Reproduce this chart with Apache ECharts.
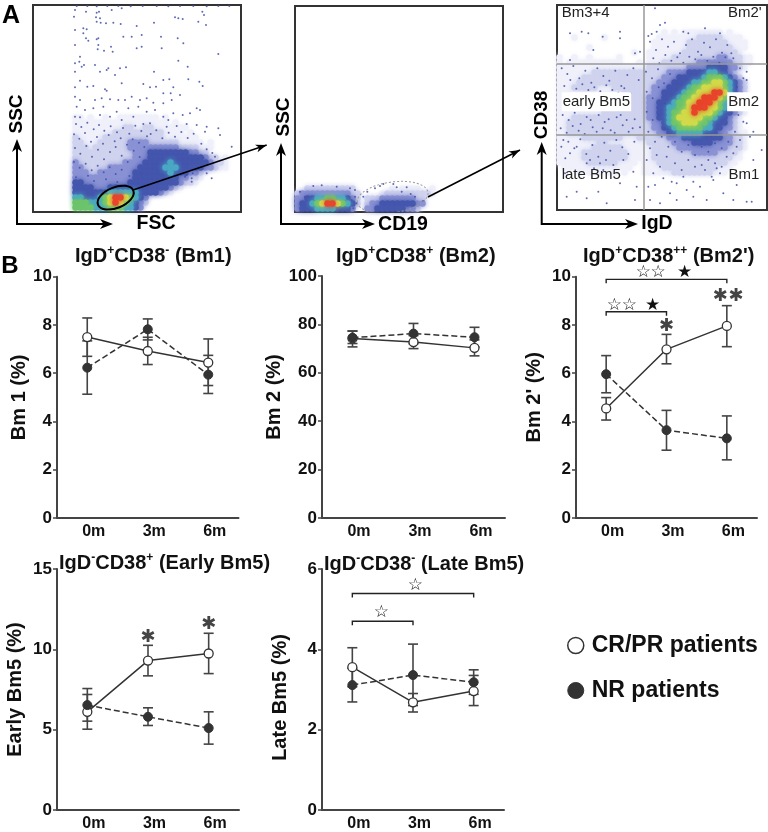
<!DOCTYPE html>
<html><head><meta charset="utf-8">
<style>html,body{margin:0;padding:0;background:#fff}#c{width:768px;height:832px}</style>
<script src="https://cdn.jsdelivr.net/npm/echarts@6/dist/echarts.min.js"></script>
</head><body><div id="c"></div>
<script>
const months = ['0m','3m','6m'];
const crName = 'CR/PR patients', nrName = 'NR patients';

const bm1Cr=[7.5,6.92,6.44], bm1CrLo=[6.7,6.36,5.49], bm1CrHi=[8.29,7.49,7.42];
const bm1Nr=[6.23,7.82,5.94], bm1NrLo=[5.13,7.38,5.16], bm1NrHi=[7.34,8.25,6.74];
const bm2Cr=[74.2,72.7,70.3], bm2CrLo=[70.7,70,67], bm2CrHi=[77.2,75.4,73.6];
const bm2Nr=[74.5,76.2,74.7], bm2NrLo=[72.1,72,70.6], bm2NrHi=[77.3,80.4,78.8];
const bm2pCr=[4.54,6.99,7.96], bm2pCrLo=[4.06,6.39,7.1], bm2pCrHi=[4.99,7.61,8.8];
const bm2pNr=[5.96,3.64,3.3], bm2pNrLo=[5.19,2.81,2.41], bm2pNrHi=[6.73,4.46,4.23];
const earlyCr=[6.11,9.3,9.74], earlyCrLo=[5.03,8.35,8.49], earlyCrHi=[7.19,10.25,11];
const earlyNr=[6.53,5.8,5.1], earlyNrLo=[5.53,5.26,4.1], earlyNrHi=[7.56,6.36,6.11];
const lateCr=[3.555,2.68,2.96], lateCrLo=[3.07,2.44,2.6], lateCrHi=[4.04,2.9,3.35];
const lateNr=[3.11,3.36,3.18], lateNrLo=[2.69,2.6,2.88], lateNrHi=[3.53,4.13,3.49];

// brackets: from, to, level
const bm2pBrackets=[[0,2,9.89],[0,1,8.55]];
const lateBrackets=[[0,2,5.39],[0,1,4.7]];
// marks: x on the time scale (0,1,2), level, glyph
const bm2pMarks=[[.615,10.17,'☆'],[.863,10.17,'☆'],[1.3,10.17,'★'],[.137,8.8,'☆'],[.385,8.8,'☆'],[.77,8.8,'★'],[1,7.96,'✱'],[1.89,9.17,'✱'],[2.154,9.17,'✱']];
const earlyMarks=[[1,10.77,'✱'],[2,11.58,'✱']];
const lateMarks=[[1.04,5.59,'☆'],[.48,4.92,'☆']];

// flow cytometry density readings, one character per 15-unit cell (. = none, 1-8 rising)
const fscRowStart=22, fscColStart=8;
const fscDensity=[
"11.1..1..11111111.1",
"1111111111111111111.1",
"11111111112211221111111",
"1111111122222222221111.1",
"2111112222222222221111111",
"22111222222333322222211111.1",
"2221222222233333333332222111",
"222222222222333444444443322",
"22222222222233344444444444322.1",
"3222222222333344444544444443221",
"3322222333333444445554444433211",
"333223333333444444454443321",
"33333333333344444444433221",
"4433333333344444444443221",
"4444333444444444444321",
"44444445555554444321",
"554445678876543",
"666555678765432",
"66665556665543",
"666555444322"];
const fscDots=[[225,30],[222,50],[258,35],[290,38],[297,35],[288,52],[300,55],[290,65],[302,68],[318,70],[335,30],[365,25],[340,68],[362,72],[410,78],[462,68],[525,52],[535,55],[548,57],[607,35],[612,45],[595,65],[618,75],[225,90],[250,85],[260,88],[250,100],[258,115],[265,122],[290,118],[295,115],[370,110],[395,110],[425,105],[483,110],[533,115],[550,130],[295,135],[293,148],[312,152],[333,140],[338,155],[225,135],[240,170],[238,185],[225,190],[245,200],[252,195],[285,195],[300,215],[320,210],[325,205],[360,205],[378,202],[410,145],[425,140],[485,145],[535,182],[563,200],[655,162],[462,215],[490,240],[508,238],[565,238],[608,258],[598,245],[520,262],[225,215],[240,242],[225,262],[262,260],[280,258],[315,268],[320,272],[345,225],[365,250],[430,252],[450,262],[468,260],[490,280],[512,280],[540,285],[225,290],[240,300],[285,300],[305,295],[330,298],[355,300],[375,300],[395,290],[420,300],[440,295],[460,308],[490,310],[515,300],[590,325],[600,330],[570,340],[548,345],[520,340],[505,360],[490,350],[465,330],[440,335],[415,320],[385,325],[350,335],[310,320],[280,325],[255,330],[230,320],[225,350],[240,352],[300,345],[330,350],[365,360],[400,350],[620,380],[655,385],[660,405],[695,440],[645,470],[620,520],[635,535],[575,535],[575,545],[555,530],[615,395],[590,375],[560,372],[530,378],[500,380],[450,370],[430,372],[230,18],[262,18],[290,19],[322,18],[355,18],[392,19],[428,18],[470,18],[505,19],[540,18],[580,18],[620,19],[655,18],[688,18],
[228,372],[244,381],[262,368],[281,388],[297,375],[313,392],[332,379],[351,397],[369,384],[388,401],[406,377],[424,393],[441,409],[222,403],[238,416],[255,399],[273,425],[291,411],[309,431],[326,405],[344,424],[362,415],[381,434],[398,418],[417,428],[433,441],[452,402],[469,391],[487,415],[506,398],[525,410],[544,396],[563,414],[581,401],[225,444],[241,461],[259,438],[276,470],[294,449],[312,478],[330,456],[347,441],[365,467],[383,486],[401,452],[419,471],[222,486],[239,503],[257,491],[275,511],[293,497],[311,517],[329,502],[347,522],[365,509],[228,532],[246,548],[264,527],[282,543],[318,538],[352,546],[388,528],[422,520],[604,431],[620,448],[637,459],[610,474],[592,502],[578,520],[560,525]];
const fscGate=[347,593,57,31,-22];

const cd19RowStart=36, cd19ColStart=0;
const cd19Density=[
"..2222222222.......1.1111..1",
"2333333333322....12222222221",
"3344556655432.222333333322",
"3445678876542.233444444433",
"344455554443..33444444332",
"2233333333322.233333332"];
const cd19Dots=[[60,575],[75,590],[100,558],[125,556],[170,560],[210,565],[225,570],[225,590],[230,610],[430,603],[405,590],[380,562],[340,552],[300,558],[310,552],[215,600],[220,625],[365,575],[392,582],[250,590],[262,575],[285,565],[350,562]];
const cd19Gate=[338,592,107,46,-8];

const igdRowStart=5, igdColStart=0;
const igdLeft=[
".................",
"...1.....1.......",
".................",
"......1..........",
"...............1.",
"1..1..1.....1....",
"1.11111111111...1",
"11111111111111111",
"11111112222222222",
"11111222222222222",
"11112222222222222",
"11122222111222222",
"11111111111112222",
"11111111111122222",
"11111111111122222",
"11111111111122222",
"11111111122222222",
"11122222222222222",
"11222222222222222",
"11222222222222222",
"11222222222222222",
"11111222222221112",
"11111111221111111",
"11111112222221111",
"11111222222222111",
"11111222222222111",
"1111112222221111.",
".11111111111111..",
"....1.1.1.11.1..."];
const igdRight=[
"....1 .1.11 11111 1.1.. .....",
"...11 11111 12222 21111 .....",
"..111 11112 22222 22111 1....",
"..111 11112 22222 22211 1....",
".1111 11122 22222 22221 .....",
".1111 12222 22222 33222 11...",
".1112 22222 23333 33322 11...",
"12222 22223 33344 44332 1....",
"222 22333 34444 55443 21...",
"222 23334 44445 66654 32...",
"222 33344 44556 67765 432..",
"223 33444 45667 77765 432..",
"223 34444 56677 78875 432..",
"233 34445 66778 88765 43...",
"233 44456 67788 87654 321..",
"233 44556 67888 77654 321..",
"233 44566 77877 76544 321..",
"233 44567 77776 65443 21...",
"223 34566 77766 54443 21...",
"223 34456 66665 54433 21...",
"222 33445 55554 44332 211..",
"22222 33344 44444 43322 1....",
"12222 23333 44443 33322 1....",
"11222 22333 33333 33222 1....",
"11222 22222 33333 22221 .....",
"11222 22222 22222 22211 .....",
"11122 22222 22222 2211. .....",
"11112 22222 22222 111.. .....",
"11111 12222 22221 11... ....."];
const igdDensity=igdLeft.map((l,i)=>l+igdRight[i].replace(/ /g,''));
const igdDots=[[300,95],[205,100],[150,100],[185,95],[248,110],[300,115],[220,150],[345,160],[360,155],[150,180],[405,25],[420,75],[435,68],[385,108],[395,102],[410,95],[555,85],[505,100],[490,95],[600,100],[640,175],[660,205],[670,235],[680,240],[680,215],[700,395],[690,410],[725,450],[640,460],[135,520],[170,575],[140,590],[200,595],[235,575],[260,610],[340,515],[350,560],[345,600],[300,550],[390,600],[420,610],[450,580],[470,550],[490,530],[500,570],[520,590],[540,560],[560,600],[580,540],[600,520],[610,580],[640,600],[680,605],[620,470],[650,440],[700,480],[400,520],[380,480],[420,500],[440,470],[455,545],[385,560],[250,510],[210,480],[240,490],[310,480],[130,420],[150,460],[170,440],[575,530],[590,505],[605,500],[470,600],[405,555],[520,545],[555,510],[650,555],[695,605],
[125,205],[142,222],[160,198],[178,235],[196,212],[214,248],[232,205],[250,228],[268,242],[286,212],[304,258],[322,225],[340,205],[356,240],[133,258],[151,240],[169,266],[187,253],[205,270],[223,262],[241,274],[259,256],[277,270],[295,278],[313,265],[331,280],[128,345],[146,360],[164,338],[182,372],[200,351],[218,382],[236,345],[254,366],[272,391],[290,352],[308,376],[326,395],[344,358],[360,382],[122,385],[140,398],[158,378],[176,392],[194,402],[212,360],[230,395],[248,385],[266,358],[284,398],[302,345],[320,360],[338,385],[145,425],[163,445],[181,418],[199,462],[217,435],[235,470],[253,428],[271,452],[289,420],[307,442],[325,462],[343,425],[200,490],[222,505],[258,480],[280,495],[124,440],[136,475],[390,125],[408,150],[426,118],[444,140],[462,125],[480,160],[498,135],[516,118],[534,155],[552,128],[570,142],[588,118],[606,158],[622,135],[400,175],[418,190],[436,165],[454,182],[472,172],[490,188],[508,170],[526,178],[544,165],[562,182],[580,170],[598,188],[616,172],[634,160],[378,215],[396,235],[414,208],[432,250],[450,222],[380,275],[398,295],[416,262],[434,310],[380,335],[398,360],[416,345],[434,385],[385,395],[405,425],[425,410],[445,440],[465,425],[485,455],[505,435],[525,465],[545,440],[565,455],[585,430],[605,445],[625,425],[465,490],[485,510],[505,480],[525,500],[545,495],[565,480],[585,490],[430,535],[410,465],[390,445],[650,260],[665,280],[655,345],[670,365],[645,395],[660,420],[680,370]];
const igdGates=[372], cd38Gates=[192,403];
const quadrantNames=['Bm3+4',"Bm2'",'early Bm5','Bm2','late Bm5','Bm1'];
const quadrantX=[125,725,125,720,125,718], quadrantY=[38,38,305,305,525,525];
const quadrantAlign=['left','right','left','right','left','right'];

const densityColors=['#fff','#eff0fa','#d0d3ee','#8b93d4','#4658ae','#4aa8c4','#6cc46c','#d2da4a','#e8452c'];

const grid=[],xAxis=[],yAxis=[],series=[],title=[];

function addFlow(box,xr,yr,rows,rowStart,colStart,dots){
  const gi=grid.length;
  grid.push({left:box[0],top:box[1],width:box[2],height:box[3],show:true,borderColor:'#333',borderWidth:2,backgroundColor:'#fff',z:0});
  xAxis.push({type:'value',gridIndex:gi,min:xr[0],max:xr[1],show:false});
  yAxis.push({type:'value',gridIndex:gi,min:yr[0],max:yr[1],inverse:true,show:false});
  const cells=[];
  rows.forEach((row,r)=>{for(let c=0;c<row.length;c++){const l=+row[c];if(l>0)cells.push([xr[0]+15*(colStart+c+.5),yr[0]+15*(rowStart+r+.5),l]);}});
  cells.sort((a,b)=>a[2]-b[2]);
  series.push({type:'scatter',xAxisIndex:gi,yAxisIndex:gi,symbolSize:6.5,silent:true,clip:true,z:2,
    data:cells.map(c=>({value:c,itemStyle:{opacity:1,color:densityColors[c[2]],shadowColor:densityColors[c[2]],shadowBlur:5}}))});
  series.push({type:'scatter',xAxisIndex:gi,yAxisIndex:gi,data:dots,symbolSize:2,silent:true,clip:true,z:3,itemStyle:{color:'#4350a8',opacity:.85}});
  return gi;
}
function addGate(gi,g,stroke,width,dash){
  series.push({type:'custom',xAxisIndex:gi,yAxisIndex:gi,data:[g],clip:true,silent:true,z:5,
    renderItem:(p,api)=>{
      const c=api.coord([g[0],g[1]]),e=api.coord([g[0]+g[2],g[1]+g[3]]);
      return {type:'ellipse',x:c[0],y:c[1],originX:0,originY:0,rotation:-g[4]*Math.PI/180,
        shape:{cx:0,cy:0,rx:e[0]-c[0],ry:e[1]-c[1]},
        style:{fill:null,stroke:stroke,lineWidth:width,lineDash:dash||null}};
    }});
}

const g0=addFlow([33,5,208,207],[99,723],[15,636],fscDensity,fscRowStart,fscColStart,fscDots);
addGate(g0,fscGate,'#000',2);
const g1=addFlow([295,6,208,206],[45,669],[18,636],cd19Density,cd19RowStart,cd19ColStart,cd19Dots);
addGate(g1,cd19Gate,'#999',1,[2,2]);
const g2=addFlow([557,5,210,205],[111,741],[15,630],igdDensity,igdRowStart,igdColStart,igdDots);
series[series.length-1].markLine={silent:true,symbol:'none',animation:false,label:{show:false},
  lineStyle:{color:'#999',width:1.5,type:'solid'},
  data:igdGates.map(v=>({xAxis:v})).concat(cd38Gates.map(v=>({yAxis:v})))};
series.push({type:'custom',xAxisIndex:g2,yAxisIndex:g2,data:quadrantNames.map((n,i)=>[quadrantX[i],quadrantY[i]]),silent:true,z:6,
  renderItem:(p,api)=>{const i=p.dataIndex,c=api.coord([quadrantX[i],quadrantY[i]]);
    return {type:'text',x:c[0],y:c[1],style:{text:quadrantNames[i],align:quadrantAlign[i],verticalAlign:'middle',
      font:'15px "Liberation Sans"',fill:'#222',backgroundColor:i>1&&i<4?'#fff':null,padding:i>1&&i<4?[2,1]:0}};}});

const richTitle={
  b:{fontFamily:'Liberation Sans',fontWeight:'bold',fontSize:20,color:'#111',lineHeight:22},
  s:{fontFamily:'Liberation Sans',fontWeight:'bold',fontSize:12,color:'#111',lineHeight:22,verticalAlign:'top'}};

function addLinePanel(box,cfg){
  const gi=grid.length;
  grid.push({left:box[0],top:box[1],width:box[2],height:box[3]});
  const xc=xAxis.length;
  xAxis.push({type:'category',gridIndex:gi,data:months,boundaryGap:true,
    axisLine:{lineStyle:{color:'#444',width:2}},
    axisTick:{alignWithLabel:true,length:4,lineStyle:{color:'#444',width:1.5}},
    axisLabel:{color:'#111',fontFamily:'Liberation Sans',fontWeight:'bold',fontSize:16,margin:6,padding:[0,0,0,13]}});
  xAxis.push({type:'value',gridIndex:gi,min:-.5,max:2.5,show:false});
  yAxis.push({type:'value',gridIndex:gi,min:0,max:cfg.max,interval:cfg.step,splitLine:{show:false},
    axisLine:{show:true,onZero:false,lineStyle:{color:'#444',width:2}},
    axisTick:{show:true,length:4,lineStyle:{color:'#444',width:1.5}},
    axisLabel:{color:'#111',fontFamily:'Liberation Sans',fontWeight:'bold',fontSize:17,margin:5},
    name:cfg.yName,nameLocation:'middle',nameGap:cfg.gap,nameRotate:90,
    nameTextStyle:{color:'#111',fontFamily:'Liberation Sans',fontWeight:'bold',fontSize:20,padding:cfg.namePad||0}});
  const yi=yAxis.length-1;
  const errs=(lo,hi)=>({type:'custom',xAxisIndex:xc,yAxisIndex:yi,silent:true,z:2,
    data:months.map((m,i)=>[i,lo[i],hi[i]]),
    renderItem:(p,api)=>{const a=api.coord([api.value(0),api.value(1)]),b=api.coord([api.value(0),api.value(2)]);
      const st={stroke:'#444',lineWidth:1.6},w=5;
      return {type:'group',children:[
        {type:'line',shape:{x1:a[0],y1:a[1],x2:b[0],y2:b[1]},style:st},
        {type:'line',shape:{x1:a[0]-w,y1:a[1],x2:a[0]+w,y2:a[1]},style:st},
        {type:'line',shape:{x1:b[0]-w,y1:b[1],x2:b[0]+w,y2:b[1]},style:st}]};}});
  series.push(errs(cfg.crLo,cfg.crHi),errs(cfg.nrLo,cfg.nrHi));
  series.push({type:'line',name:crName,xAxisIndex:xc,yAxisIndex:yi,data:cfg.cr,z:3,symbol:'circle',symbolSize:9,showSymbol:true,
    lineStyle:{color:'#333',width:1.5},itemStyle:{color:'#fff',borderColor:'#333',borderWidth:1.3}});
  series.push({type:'line',name:nrName,xAxisIndex:xc,yAxisIndex:yi,data:cfg.nr,z:4,symbol:'circle',symbolSize:9,showSymbol:true,
    lineStyle:{color:'#333',width:1.5,type:[6,3]},itemStyle:{color:'#333',borderColor:'#333',borderWidth:1}});
  if(cfg.brackets)series.push({type:'custom',xAxisIndex:xc+1,yAxisIndex:yi,silent:true,z:5,data:cfg.brackets,
    renderItem:(p,api)=>{const a=api.coord([api.value(0),api.value(2)]),b=api.coord([api.value(1),api.value(2)]);
      return {type:'polyline',shape:{points:[[a[0],a[1]+4],a,b,[b[0],b[1]+4]]},style:{fill:null,stroke:'#222',lineWidth:1.4}};}});
  if(cfg.marks)series.push({type:'custom',xAxisIndex:xc+1,yAxisIndex:yi,silent:true,z:6,
    data:cfg.marks.map(m=>[m[0],m[1]]),
    renderItem:(p,api)=>{const m=cfg.marks[p.dataIndex],c=api.coord([m[0],m[1]]),ast=m[2]==='✱';
      return {type:'text',x:c[0],y:c[1],style:{text:m[2],align:'center',verticalAlign:'middle',
        font:(ast?'18px':'17px')+' "DejaVu Sans"',fill:ast?'#444':'#111'}};}});
  title.push({left:cfg.tx,top:cfg.ty-11,padding:0,text:cfg.title,textStyle:{rich:richTitle}});
}

addLinePanel([57,276.7,181.5,241.3],{max:10,step:2,yName:'Bm 1 (%)',gap:28,cr:bm1Cr,crLo:bm1CrLo,crHi:bm1CrHi,nr:bm1Nr,nrLo:bm1NrLo,nrHi:bm1NrHi,
  title:'{b|IgD}{s|+}{b|CD38}{s|-}{b| (Bm1)}',tx:75,ty:256});
addLinePanel([322,276,183,242],{max:100,step:20,yName:'Bm 2 (%)',gap:34,cr:bm2Cr,crLo:bm2CrLo,crHi:bm2CrHi,nr:bm2Nr,nrLo:bm2NrLo,nrHi:bm2NrHi,
  title:'{b|IgD}{s|+}{b|CD38}{s|+}{b| (Bm2)}',tx:336,ty:256});
addLinePanel([576,276.7,181,241.3],{max:10,step:2,yName:"Bm 2' (%)",gap:32,cr:bm2pCr,crLo:bm2pCrLo,crHi:bm2pCrHi,nr:bm2pNr,nrLo:bm2pNrLo,nrHi:bm2pNrHi,
  brackets:bm2pBrackets,marks:bm2pMarks,title:"{b|IgD}{s|+}{b|CD38}{s|++}{b| (Bm2')}",tx:583,ty:256});
addLinePanel([57,569,182,242],{max:15,step:5,yName:'Early Bm5 (%)',gap:32,cr:earlyCr,crLo:earlyCrLo,crHi:earlyCrHi,nr:earlyNr,nrLo:earlyNrLo,nrHi:earlyNrHi,
  marks:earlyMarks,title:'{b|IgD}{s|-}{b|CD38}{s|+}{b| (Early Bm5)}',tx:59,ty:563});
addLinePanel([322,569,182,242],{max:6,step:2,yName:'Late Bm5 (%)',gap:32,namePad:[0,16,0,0],cr:lateCr,crLo:lateCrLo,crHi:lateCrHi,nr:lateNr,nrLo:lateNrLo,nrHi:lateNrHi,
  brackets:lateBrackets,marks:lateMarks,title:'{b|IgD}{s|-}{b|CD38}{s|-}{b| (Late Bm5)}',tx:324,ty:564});

// figure annotations
const els=[];
function arrowHead(x1,y1,x2,y2,len,half,fill){
  const a=Math.atan2(y2-y1,x2-x1),c=Math.cos(a),s=Math.sin(a),P=(u,v)=>[x2+u*c-v*s,y2+u*s+v*c];
  els.push({type:'polygon',z:100,silent:true,shape:{points:[P(0,0),P(-len,-half),P(-len*.72,0),P(-len,half)]},style:{fill:fill}});
}
function axesArrow(x,yTop,yBot,xEnd){
  els.push({type:'polyline',z:100,silent:true,shape:{points:[[x,yTop+6],[x,yBot],[xEnd-6,yBot]]},style:{fill:null,stroke:'#000',lineWidth:2}});
  arrowHead(x,yBot,x,yTop,13,5,'#000');arrowHead(x,yBot,xEnd,yBot,13,5,'#000');
}
function gateArrow(x1,y1,x2,y2){
  els.push({type:'line',z:100,silent:true,shape:{x1:x1,y1:y1,x2:x2,y2:y2},style:{stroke:'#000',lineWidth:1.6}});
  arrowHead(x1,y1,x2,y2,11,4,'#000');
}
function label(t,x,y,rot,size){
  els.push({type:'text',z:100,silent:true,x:x,y:y,rotation:rot?Math.PI/2:0,
    style:{text:t,align:'center',verticalAlign:'middle',font:'bold '+size+'px "Liberation Sans"',fill:'#000'}});
}
axesArrow(17,139,224,113);axesArrow(281,143,224,375);axesArrow(541.7,142,224,638);
gateArrow(133,190,266.7,145);gateArrow(428,197,520,150);
label('SSC',17,114,true,19);label('FSC',156,224,false,19.5);
label('SSC',284,117,true,19);label('CD19',403,225,false,19.5);
label('CD38',541.7,115,true,19);label('IgD',657,224,false,19.5);
label('A',11,16,false,25);label('B',10,266,false,24);

const chart=echarts.init(document.getElementById('c'),null,{renderer:'canvas'});
chart.setOption({animation:false,backgroundColor:'#fff',grid,xAxis,yAxis,series,title,
  graphic:{elements:els},
  legend:{orient:'vertical',left:562,top:629,itemWidth:16,itemHeight:16,itemGap:22,selectedMode:false,
    textStyle:{fontFamily:'Liberation Sans',fontWeight:'bold',fontSize:23,color:'#111',padding:[0,0,0,3]},
    data:[{name:crName,icon:'circle',itemStyle:{color:'#fff',borderColor:'#333',borderWidth:1.5}},
          {name:nrName,icon:'circle',itemStyle:{color:'#333',borderColor:'#333',borderWidth:1}}]},
  tooltip:{show:false}});
</script></body></html>
